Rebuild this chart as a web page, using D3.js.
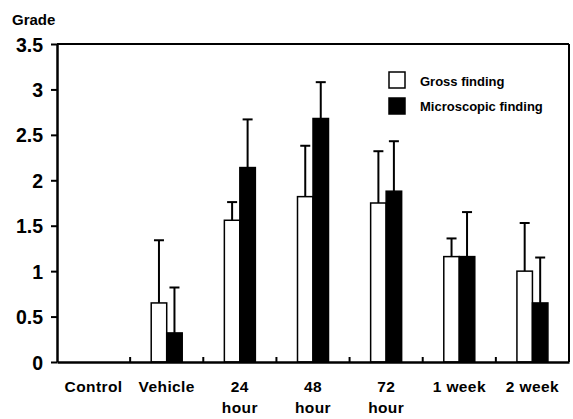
<!DOCTYPE html>
<html>
<head>
<meta charset="utf-8">
<script src="https://cdn.jsdelivr.net/npm/d3@7"></script>
<style>
  body { margin: 0; background: #fff; }
  text { font-family: "Liberation Sans", Arial, sans-serif; font-weight: bold; fill: #000; }
</style>
</head>
<body>
<svg id="chart"></svg>
<script>
const categories = ["Control", "Vehicle", "24\nhour", "48\nhour", "72\nhour", "1 week", "2 week"];
const grossValues = [0, 0.65, 1.56, 1.82, 1.75, 1.16, 1.0];
const grossErrors = [0, 0.69, 0.2, 0.56, 0.57, 0.2, 0.53];
const microValues = [0, 0.32, 2.14, 2.68, 1.88, 1.16, 0.65];
const microErrors = [0, 0.5, 0.53, 0.4, 0.55, 0.49, 0.5];
const yTicks = [0, 0.5, 1, 1.5, 2, 2.5, 3, 3.5];
const seriesNames = ["Gross finding", "Microscopic finding"];

const margin = {top: 44, right: 4, bottom: 57, left: 57},
  width = 573 - margin.left - margin.right,
  height = 419 - margin.top - margin.bottom;

const svg = d3.select("#chart")
  .attr("width", 573)
  .attr("height", 419)
  .append("g")
  .attr("transform", "translate(" + margin.left + "," + margin.top + ")");

const x = d3.scaleBand().domain(categories).range([0, width]);
const sub = d3.scaleBand().domain([0, 1]).range([x.bandwidth() / 2 - 15.5, x.bandwidth() / 2 + 15.5]);
const y = d3.scaleLinear().domain([0, 3.5]).range([height, 0]);

const series = [
  {values: grossValues, errors: grossErrors, fill: "#fff"},
  {values: microValues, errors: microErrors, fill: "#000"}
];

// error bars (behind bars)
series.forEach(function (s, si) {
  categories.forEach(function (c, i) {
    if (s.values[i] === 0) return;
    const cx = x(c) + sub(si) + sub.bandwidth() / 2;
    svg.append("line")
      .attr("x1", cx).attr("x2", cx)
      .attr("y1", y(s.values[i])).attr("y2", y(s.values[i] + s.errors[i]))
      .attr("stroke", "#000").attr("stroke-width", 2);
    svg.append("line")
      .attr("x1", cx - 5).attr("x2", cx + 5)
      .attr("y1", y(s.values[i] + s.errors[i])).attr("y2", y(s.values[i] + s.errors[i]))
      .attr("stroke", "#000").attr("stroke-width", 2);
  });
});

series.forEach(function (s, si) {
  svg.append("g").selectAll("rect")
    .data(categories)
    .join("rect")
    .attr("x", function (c) { return x(c) + sub(si); })
    .attr("y", function (c, i) { return y(s.values[i]); })
    .attr("width", sub.bandwidth())
    .attr("height", function (c, i) { return height - y(s.values[i]); })
    .attr("fill", s.fill)
    .attr("stroke", "#000")
    .attr("stroke-width", 1.5);
});

// frame
svg.append("line").attr("x1", width).attr("x2", width).attr("y1", 0).attr("y2", height)
  .attr("stroke", "#000").attr("stroke-width", 2);
svg.append("line").attr("x1", 0).attr("x2", width).attr("y1", 0).attr("y2", 0)
  .attr("stroke", "#000").attr("stroke-width", 2);

// y axis
const yAxis = svg.append("g")
  .call(d3.axisLeft(y).tickValues(yTicks).tickFormat(d3.format("")).tickSize(6).tickSizeOuter(0));
yAxis.select(".domain").attr("stroke-width", 2.5);
yAxis.selectAll(".tick line").attr("stroke-width", 2);
yAxis.selectAll(".tick text").attr("x", -14).attr("dy", "0.36em")
  .style("font-size", "19.5px").style("font-family", "'Liberation Sans', Arial, sans-serif");

// x axis
const xAxis = svg.append("g")
  .attr("transform", "translate(0," + height + ")")
  .call(d3.axisBottom(x).tickSize(0).tickSizeOuter(0));
xAxis.select(".domain").attr("stroke-width", 2.5);
xAxis.selectAll(".tick text").remove();
xAxis.selectAll(".tick").each(function (c) {
  const lines = c.split("\n");
  const t = d3.select(this).append("text")
    .attr("text-anchor", "middle")
    .attr("y", 30)
    .style("font-size", "15.5px")
    .style("letter-spacing", "0.4px");
  lines.forEach(function (l, k) {
    t.append("tspan").attr("x", 0).attr("dy", k === 0 ? 0 : 21).text(l);
  });
});
// inner boundary ticks
svg.append("g").selectAll("line")
  .data(categories.slice(1))
  .join("line")
  .attr("x1", function (c) { return x(c); })
  .attr("x2", function (c) { return x(c); })
  .attr("y1", height).attr("y2", height - 5)
  .attr("stroke", "#000").attr("stroke-width", 2);

// y title
svg.append("text").attr("x", 12 - margin.left).attr("y", 25 - margin.top)
  .style("font-size", "15px").text("Grade");

// legend
const legend = svg.append("g").attr("transform", "translate(" + (389 - margin.left) + "," + (72 - margin.top) + ")");
seriesNames.forEach(function (n, i) {
  legend.append("rect").attr("x", 0).attr("y", i * 26).attr("width", 16).attr("height", 16)
    .attr("fill", series[i].fill).attr("stroke", "#000").attr("stroke-width", 1.5);
  legend.append("text").attr("x", 31).attr("y", i * 25 + 14).style("font-size", "13px").text(n);
});
</script>
</body>
</html>
